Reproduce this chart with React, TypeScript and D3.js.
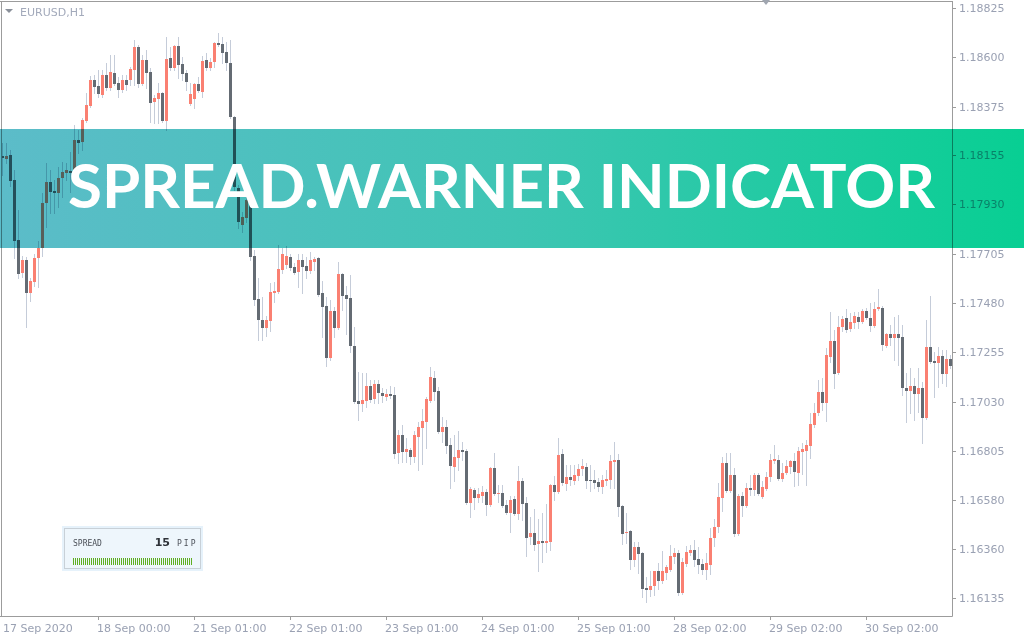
import React from "react";
import * as d3 from "d3";

const symbol = "EURUSD,H1";
const bannerTitle = "SPREAD.WARNER INDICATOR";
const spreadLabel = "SPREAD";
const spreadValue = 15;
const spreadUnit = "PIP";

const open = [
  1.18150,1.18137,1.18155,1.18041,1.17767,1.17617,1.17676,1.17526,1.17576,1.17685,
  1.17731,1.17936,1.18032,1.17991,1.17982,1.18050,1.18073,1.18082,1.18086,1.18223,
  1.18214,1.18310,1.18378,1.18497,1.18469,1.18428,1.18520,1.18460,1.18529,1.18483,
  1.18451,1.18497,1.18497,1.18542,1.18647,1.18479,1.18588,1.18533,1.18397,1.18410,
  1.18438,1.18310,1.18597,1.18551,1.18652,1.18570,1.18529,1.18387,1.18410,1.18479,
  1.18442,1.18588,1.18551,1.18579,1.18665,1.18661,1.18624,1.18574,1.18328,1.18004,
  1.17836,1.17868,1.17950,1.17694,1.17498,1.17403,1.17366,1.17398,1.17526,1.17530,
  1.17631,1.17653,1.17690,1.17644,1.17621,1.17676,1.17649,1.17626,1.17667,1.17685,
  1.17526,1.17466,1.17229,1.17444,1.17366,1.17612,1.17517,1.17503,1.17284,1.17033,
  1.17020,1.17033,1.17102,1.17042,1.17111,1.17070,1.17051,1.17065,1.17061,1.16796,
  1.16878,1.16801,1.16810,1.16778,1.16869,1.16910,1.16938,1.17033,1.17138,1.17079,
  1.16892,1.16915,1.16833,1.16732,1.16773,1.16810,1.16805,1.16568,1.16627,1.16591,
  1.16600,1.16618,1.16559,1.16728,1.16609,1.16614,1.16559,1.16522,1.16586,1.16518,
  1.16668,1.16568,1.16413,1.16431,1.16381,1.16395,1.16386,1.16390,1.16650,1.16618,
  1.16792,1.16655,1.16687,1.16668,1.16691,1.16723,1.16732,1.16673,1.16673,1.16664,
  1.16641,1.16668,1.16673,1.16755,1.16764,1.16554,1.16431,1.16441,1.16308,1.16368,
  1.16340,1.16181,1.16172,1.16190,1.16258,1.16213,1.16249,1.16263,1.16322,1.16340,
  1.16158,1.16290,1.16340,1.16354,1.16313,1.16290,1.16263,1.16286,1.16409,1.16459,
  1.16591,1.16751,1.16623,1.16696,1.16427,1.16600,1.16554,1.16637,1.16627,1.16696,
  1.16596,1.16632,1.16687,1.16760,1.16764,1.16678,1.16705,1.16732,1.16760,1.16705,
  1.16801,1.16805,1.16828,1.16924,1.16979,1.17074,1.17024,1.17234,1.17307,1.17161,
  1.17371,1.17412,1.17362,1.17389,1.17416,1.17393,1.17444,1.17412,1.17375,1.17453,
  1.17457,1.17284,1.17339,1.17320,1.17339,1.17325,1.17092,1.17079,1.17102,1.17065,
  1.17092,1.16956,1.17279,1.17216,1.17206,1.17238,1.17156,1.17225,
];

const close = [
  1.18141,1.18150,1.18036,1.17763,1.17612,1.17676,1.17526,1.17580,1.17685,1.17731,
  1.17936,1.18032,1.17986,1.17982,1.18050,1.18077,1.18086,1.18073,1.18223,1.18210,
  1.18314,1.18383,1.18497,1.18465,1.18433,1.18520,1.18460,1.18533,1.18479,1.18451,
  1.18497,1.18474,1.18547,1.18647,1.18479,1.18588,1.18529,1.18392,1.18415,1.18438,
  1.18310,1.18593,1.18551,1.18652,1.18565,1.18524,1.18488,1.18433,1.18479,1.18447,
  1.18583,1.18551,1.18579,1.18665,1.18656,1.18620,1.18574,1.18328,1.18009,1.17849,
  1.17872,1.17950,1.17690,1.17494,1.17403,1.17366,1.17403,1.17530,1.17535,1.17635,
  1.17704,1.17694,1.17640,1.17617,1.17676,1.17644,1.17626,1.17676,1.17681,1.17517,
  1.17462,1.17229,1.17444,1.17366,1.17612,1.17512,1.17498,1.17284,1.17029,1.17020,
  1.17038,1.17102,1.17038,1.17111,1.17070,1.17056,1.17065,1.17056,1.16792,1.16878,
  1.16801,1.16814,1.16778,1.16878,1.16915,1.16942,1.17042,1.17143,1.17074,1.16892,
  1.16915,1.16828,1.16737,1.16778,1.16810,1.16801,1.16568,1.16632,1.16591,1.16609,
  1.16618,1.16559,1.16728,1.16609,1.16614,1.16554,1.16522,1.16582,1.16518,1.16668,
  1.16564,1.16409,1.16431,1.16377,1.16395,1.16386,1.16395,1.16650,1.16618,1.16787,
  1.16659,1.16687,1.16673,1.16696,1.16723,1.16737,1.16668,1.16668,1.16659,1.16641,
  1.16673,1.16678,1.16760,1.16764,1.16550,1.16427,1.16436,1.16308,1.16368,1.16336,
  1.16176,1.16172,1.16190,1.16258,1.16213,1.16258,1.16276,1.16327,1.16340,1.16158,
  1.16299,1.16345,1.16354,1.16308,1.16286,1.16263,1.16295,1.16409,1.16459,1.16596,
  1.16751,1.16623,1.16696,1.16427,1.16600,1.16554,1.16637,1.16627,1.16696,1.16609,
  1.16641,1.16687,1.16764,1.16769,1.16678,1.16705,1.16737,1.16760,1.16710,1.16805,
  1.16814,1.16833,1.16928,1.16979,1.17074,1.17024,1.17243,1.17307,1.17156,1.17371,
  1.17407,1.17357,1.17393,1.17421,1.17393,1.17444,1.17412,1.17375,1.17453,1.17462,
  1.17289,1.17339,1.17320,1.17339,1.17320,1.17092,1.17079,1.17102,1.17065,1.17092,
  1.16956,1.17279,1.17211,1.17206,1.17238,1.17156,1.17225,1.17193,
];

const high = [
  1.18210,1.18210,1.18178,1.18086,1.17904,1.17694,1.17690,1.17594,1.17704,1.17763,
  1.17982,1.18118,1.18086,1.18041,1.18100,1.18123,1.18118,1.18169,1.18292,1.18269,
  1.18324,1.18438,1.18515,1.18520,1.18542,1.18542,1.18574,1.18611,1.18611,1.18510,
  1.18520,1.18520,1.18556,1.18679,1.18656,1.18611,1.18634,1.18551,1.18428,1.18483,
  1.18442,1.18693,1.18647,1.18656,1.18693,1.18602,1.18542,1.18483,1.18483,1.18510,
  1.18606,1.18620,1.18597,1.18670,1.18711,1.18693,1.18670,1.18679,1.18333,1.18018,
  1.17895,1.17972,1.17959,1.17722,1.17594,1.17507,1.17421,1.17571,1.17576,1.17745,
  1.17731,1.17740,1.17704,1.17662,1.17704,1.17704,1.17690,1.17713,1.17690,1.17690,
  1.17580,1.17507,1.17494,1.17462,1.17667,1.17617,1.17558,1.17608,1.17371,1.17165,
  1.17161,1.17161,1.17129,1.17129,1.17129,1.17092,1.17088,1.17102,1.17097,1.16901,
  1.16924,1.16865,1.16819,1.16896,1.16938,1.16997,1.17051,1.17188,1.17170,1.17097,
  1.16960,1.16947,1.16865,1.16878,1.16896,1.16846,1.16814,1.16641,1.16637,1.16637,
  1.16646,1.16632,1.16732,1.16796,1.16650,1.16650,1.16582,1.16600,1.16600,1.16737,
  1.16682,1.16596,1.16504,1.16541,1.16495,1.16522,1.16564,1.16655,1.16691,1.16865,
  1.16814,1.16741,1.16741,1.16741,1.16746,1.16769,1.16751,1.16741,1.16719,1.16682,
  1.16696,1.16719,1.16787,1.16846,1.16792,1.16559,1.16522,1.16445,1.16390,1.16390,
  1.16345,1.16231,1.16258,1.16226,1.16295,1.16349,1.16286,1.16377,1.16363,1.16354,
  1.16317,1.16372,1.16377,1.16400,1.16368,1.16313,1.16340,1.16454,1.16495,1.16659,
  1.16778,1.16796,1.16796,1.16728,1.16609,1.16618,1.16659,1.16696,1.16705,1.16705,
  1.16668,1.16710,1.16792,1.16833,1.16787,1.16751,1.16764,1.16764,1.16796,1.16824,
  1.16842,1.16855,1.16979,1.17024,1.17129,1.17138,1.17275,1.17439,1.17357,1.17421,
  1.17421,1.17453,1.17434,1.17439,1.17439,1.17453,1.17457,1.17480,1.17485,1.17544,
  1.17466,1.17343,1.17380,1.17416,1.17425,1.17380,1.17161,1.17184,1.17138,1.17184,
  1.17120,1.17403,1.17512,1.17257,1.17279,1.17266,1.17266,1.17243,
];

const low = [
  1.18064,1.18118,1.18013,1.17685,1.17594,1.17599,1.17371,1.17489,1.17558,1.17553,
  1.17694,1.17827,1.17890,1.17890,1.17918,1.17963,1.18041,1.17986,1.18064,1.18164,
  1.18178,1.18305,1.18374,1.18438,1.18419,1.18419,1.18451,1.18451,1.18474,1.18419,
  1.18442,1.18451,1.18474,1.18474,1.18465,1.18474,1.18460,1.18305,1.18301,1.18301,
  1.18305,1.18269,1.18542,1.18542,1.18506,1.18497,1.18451,1.18383,1.18369,1.18442,
  1.18419,1.18542,1.18542,1.18556,1.18652,1.18574,1.18542,1.18324,1.17995,1.17822,
  1.17804,1.17849,1.17676,1.17471,1.17311,1.17311,1.17330,1.17352,1.17485,1.17526,
  1.17617,1.17640,1.17631,1.17612,1.17553,1.17526,1.17594,1.17617,1.17631,1.17512,
  1.17325,1.17193,1.17220,1.17325,1.17362,1.17448,1.17339,1.17257,1.17024,1.16947,
  1.16988,1.17006,1.17029,1.17024,1.17024,1.17029,1.17038,1.17047,1.16773,1.16751,
  1.16755,1.16755,1.16746,1.16755,1.16719,1.16746,1.16819,1.17029,1.17038,1.16887,
  1.16846,1.16796,1.16637,1.16668,1.16719,1.16764,1.16564,1.16504,1.16541,1.16573,
  1.16573,1.16513,1.16555,1.16605,1.16573,1.16550,1.16518,1.16436,1.16513,1.16495,
  1.16491,1.16327,1.16381,1.16354,1.16258,1.16299,1.16345,1.16354,1.16582,1.16614,
  1.16650,1.16627,1.16650,1.16655,1.16673,1.16696,1.16637,1.16623,1.16637,1.16623,
  1.16614,1.16650,1.16637,1.16637,1.16509,1.16381,1.16386,1.16267,1.16281,1.16249,
  1.16140,1.16117,1.16144,1.16149,1.16176,1.16203,1.16222,1.16258,1.16295,1.16149,
  1.16153,1.16281,1.16331,1.16281,1.16249,1.16245,1.16222,1.16245,1.16372,1.16436,
  1.16532,1.16618,1.16618,1.16418,1.16422,1.16509,1.16550,1.16605,1.16605,1.16605,
  1.16591,1.16627,1.16668,1.16751,1.16673,1.16668,1.16700,1.16705,1.16646,1.16650,
  1.16700,1.16650,1.16773,1.16915,1.16969,1.16992,1.16942,1.17211,1.17092,1.17156,
  1.17352,1.17348,1.17352,1.17366,1.17366,1.17389,1.17407,1.17352,1.17371,1.17448,
  1.17266,1.17279,1.17289,1.17220,1.17197,1.17061,1.16938,1.16979,1.16947,1.16983,
  1.16842,1.16951,1.17206,1.17051,1.17097,1.17115,1.17102,1.17184,
];

const timeLabels = [
  "17 Sep 2020", "18 Sep 00:00", "21 Sep 01:00", "22 Sep 01:00", "23 Sep 01:00",
  "24 Sep 01:00", "25 Sep 01:00", "28 Sep 02:00", "29 Sep 02:00", "30 Sep 02:00",
];
const timeLabelBars = [0, 24, 48, 72, 96, 120, 144, 168, 192, 216];

const priceTicks = [
  1.18825, 1.186, 1.18375, 1.18155, 1.1793, 1.17705, 1.1748,
  1.17255, 1.1703, 1.16805, 1.1658, 1.1636, 1.16135,
];

const BULL = "#fa8072";
const BEAR = "#646b73";
const WICK = "#c5ccd9";
const AXIS_TEXT = "#9aa1b3";
const BORDER = "#9c9c9c";

export default function App() {
  const W = 1024;
  const H = 640;
  const plotR = 952;
  const plotB = 616;

  const x = d3.scaleLinear().domain([0, open.length - 1]).range([2, 950]);
  const y = d3.scaleLinear().domain([1.16135, 1.18825]).range([598, 8]);

  const candles = open.map((o, i) => {
    const c = close[i];
    const cx = Math.round(x(i));
    const yH = Math.round(y(high[i]));
    const yL = Math.round(y(low[i]));
    const yO = Math.round(y(o));
    const yC = Math.round(y(c));
    const top = Math.min(yO, yC);
    const h = Math.max(1, Math.abs(yO - yC));
    const col = c >= o ? BULL : BEAR;
    return (
      <g key={i}>
        <rect x={cx} y={yH} width={1} height={Math.max(1, yL - yH + 1)} fill={WICK} />
        <rect x={cx - 1} y={top} width={3} height={h} fill={col} />
      </g>
    );
  });

  const stripes = d3.range(60);

  return (
    <div style={{ position: "fixed", left: 0, top: 0, width: W, height: H, background: "#ffffff" }}>
      <svg width={W} height={H} style={{ display: "block" }}>
        <defs>
          <linearGradient id="bannerGrad" x1="0" x2="1" y1="0" y2="0">
            <stop offset="0" stopColor="#5cbcc9" />
            <stop offset="0.5" stopColor="#3fc5b4" />
            <stop offset="1" stopColor="#08cf93" />
          </linearGradient>
        </defs>
        <rect x={0} y={0} width={W} height={H} fill="#ffffff" />
        {candles}

        {/* plot frame */}
        <line x1={0} x2={plotR + 0.5} y1={1.5} y2={1.5} stroke={BORDER} />
        <line x1={1.5} x2={1.5} y1={1} y2={plotB + 0.5} stroke={BORDER} />
        <line x1={plotR + 0.5} x2={plotR + 0.5} y1={1} y2={plotB + 0.5} stroke={BORDER} />
        <line x1={0} x2={plotR + 0.5} y1={plotB + 0.5} y2={plotB + 0.5} stroke={BORDER} />

        {/* price axis */}
        {priceTicks.map((p) => {
          const ty = Math.round(y(p)) + 0.5;
          return (
            <g key={p}>
              <line x1={plotR} x2={plotR + 4} y1={ty} y2={ty} stroke={BORDER} />
              <text x={959} y={ty} dy="0.36em" fontFamily="DejaVu Sans, Verdana, sans-serif" fontSize={11} fill={AXIS_TEXT}>
                {p.toFixed(5)}
              </text>
            </g>
          );
        })}

        {/* time axis */}
        {timeLabels.map((t, k) => {
          const tx = Math.round(x(timeLabelBars[k]));
          return (
            <g key={t}>
              {k > 0 && <line x1={tx + 0.5} x2={tx + 0.5} y1={plotB} y2={plotB + 4} stroke={BORDER} />}
              <text x={Math.max(3, tx - 1)} y={632} fontFamily="DejaVu Sans, Verdana, sans-serif" fontSize={11} fill={AXIS_TEXT}>
                {t}
              </text>
            </g>
          );
        })}

        {/* symbol label */}
        <path d="M5,9 L13,9 L9,13 Z" fill="#8a909a" />
        <text x={20} y={16} fontFamily="DejaVu Sans, Verdana, sans-serif" fontSize={11} fill="#a3aabb">
          {symbol}
        </text>
        <path d="M762,0 L770,0 L766,5 Z" fill="#a0a6b0" />

        {/* spread widget */}
        <rect x={62} y={526} width={141} height={45} fill="#e6f2fb" />
        <rect x={64.5} y={528.5} width={136} height={40} fill="#eef6fc" stroke="#c8d0d7" />
        <text x={73} y={546} fontFamily="DejaVu Sans Mono, monospace" fontSize={8} fill="#4a4f57">
          {spreadLabel}
        </text>
        <text x={170} y={546} textAnchor="end" fontFamily="DejaVu Sans, sans-serif" fontWeight="bold" fontSize={11} fill="#2e3238">
          {spreadValue}
        </text>
        <text x={177} y={546} fontFamily="DejaVu Sans Mono, monospace" fontSize={8} letterSpacing={2} fill="#4a4f57">
          {spreadUnit}
        </text>
        {stripes.map((s) => (
          <rect key={s} x={73 + s * 2} y={558} width={1} height={7} fill="#5fae22" />
        ))}

        {/* banner */}
        <rect x={0} y={129} width={W} height={119} fill="url(#bannerGrad)" style={{ mixBlendMode: "multiply" }} />
        <text x={68} y={208} fontFamily="Lato, 'Open Sans', sans-serif" fontWeight={700} fontSize={62} fill="#ffffff" textLength={867} lengthAdjust="spacingAndGlyphs">
          {bannerTitle}
        </text>
      </svg>
    </div>
  );
}
